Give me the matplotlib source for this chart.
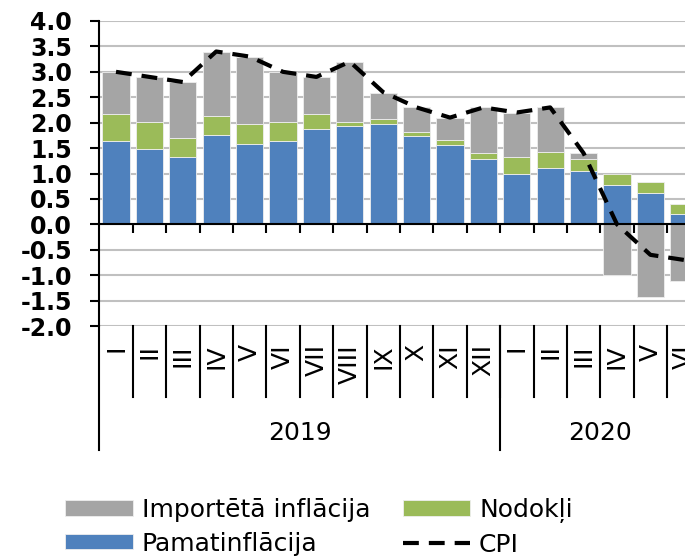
import numpy as np
import matplotlib.pyplot as plt

months = ['I', 'II', 'III', 'IV', 'V', 'VI', 'VII', 'VIII', 'IX', 'X', 'XI', 'XII',
          'I', 'II', 'III', 'IV', 'V', 'VI']
years = ['2019', '2020']
year_len = [12, 6]

core = np.array([1.64, 1.48, 1.32, 1.76, 1.59, 1.63, 1.88, 1.94, 1.98, 1.73, 1.57, 1.29,
                 1.00, 1.11, 1.05, 0.77, 0.62, 0.20])
taxes = np.array([0.54, 0.54, 0.37, 0.38, 0.39, 0.39, 0.30, 0.08, 0.09, 0.09, 0.09, 0.11,
                  0.32, 0.31, 0.24, 0.22, 0.21, 0.20])
imported = np.array([0.82, 0.87, 1.11, 1.25, 1.31, 0.98, 0.71, 1.17, 0.52, 0.48, 0.43, 0.90,
                     0.87, 0.88, 0.11, -1.00, -1.43, -1.11])
cpi = np.array([3.0, 2.9, 2.8, 3.4, 3.3, 3.0, 2.9, 3.2, 2.6, 2.3, 2.1, 2.3,
                2.2, 2.3, 1.4, 0.0, -0.6, -0.7])

c_gray = '#a5a5a5'
c_green = '#9bbb59'
c_blue = '#4f81bd'

x = np.arange(len(months))
n = len(months)

fig = plt.figure(figsize=(6.85, 5.56), dpi=100)
ax = fig.add_axes([99.3/685, 1-326/556, 1-99.3/685, (326-21)/556])

w = 0.82
ek = dict(edgecolor='#eeeeee', linewidth=0.6, zorder=3)
b1 = ax.bar(x, core, w, color=c_blue, **ek)
b2 = ax.bar(x, taxes, w, bottom=core, color=c_green, **ek)
imp_bottom = np.where(imported >= 0, core + taxes, 0)
b3 = ax.bar(x, imported, w, bottom=imp_bottom, color=c_gray, **ek)
l1, = ax.plot(x, cpi, color='black', lw=3, dashes=(3.8, 2.4), zorder=4)

ax.set_ylim(-2, 4)
ax.set_xlim(-0.5, -0.5 + (685-99.3)/33.4)
ax.set_yticks(np.arange(-2, 4.01, 0.5))
ax.set_yticklabels(['%.1f' % v for v in np.arange(-2, 4.01, 0.5)],
                   fontsize=17, fontweight='bold')
ax.yaxis.grid(True, color='#c0c0c0', lw=1.5, zorder=0)
ax.set_axisbelow(True)
ax.tick_params(axis='y', length=6.5, width=1.5, pad=13)

ax.spines['top'].set_visible(False)
ax.spines['right'].set_visible(False)
ax.spines['left'].set_linewidth(1.5)
ax.spines['bottom'].set_position(('data', 0))
ax.spines['bottom'].set_linewidth(1.5)
ax.spines['bottom'].set_zorder(5)
ax.set_xticks(x[:-1] + 0.5)
ax.set_xticklabels([])
ax.tick_params(axis='x', length=6.5, width=1.5, direction='out')

# category labels below the plot (Excel style multi-level axis)
for i, m in enumerate(months):
    ax.text(i, -2.36, m, rotation=90, ha='center', va='top', fontsize=18)
for i in range(n):
    ax.plot([i + 0.5, i + 0.5], [-2.0, -3.4], color='black', lw=1.5, clip_on=False)
start = 0
for yr, k in zip(years, year_len):
    ax.plot([start - 0.5, start - 0.5], [-2.0, -4.44], color='black', lw=1.5, clip_on=False)
    ax.text(start - 0.5 + k / 2, -4.1, yr, ha='center', va='center', fontsize=18)
    start += k

fig.legend([b3, b1, b2, l1], ['Importētā inflācija', 'Pamatinflācija', 'Nodokļi', 'CPI'],
           ncol=2, loc='upper left', bbox_to_anchor=(65/685, 1-498/556),
           frameon=False, fontsize=18, borderpad=0, borderaxespad=0,
           handlelength=2.7, handleheight=0.58, handletextpad=0.36,
           columnspacing=1.3, labelspacing=0.38)

plt.savefig('out.png', dpi=100)
